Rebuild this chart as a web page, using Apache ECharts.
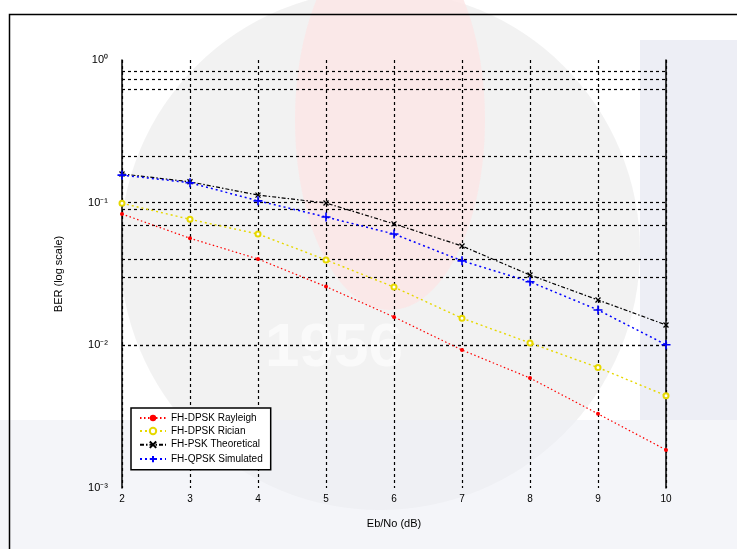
<!DOCTYPE html>
<html>
<head>
<meta charset="utf-8">
<script src="https://cdn.jsdelivr.net/npm/echarts@6/dist/echarts.min.js"></script>
<style>
  html, body { margin: 0; padding: 0; background: #fff; }
  #myChart { width: 737px; height: 549px; }
</style>
</head>
<body>
<div id="myChart"></div>
<script>
// Eb/No (dB)
var snr = [2, 3, 4, 5, 6, 7, 8, 9, 10];
// BER tiap kurva
var berRed    = [0.0833, 0.0563, 0.0403, 0.0258, 0.0158, 0.00927, 0.0059, 0.00331, 0.00185];
var berYellow = [0.099, 0.0764, 0.0603, 0.0397, 0.0256, 0.0155, 0.0104, 0.00699, 0.00444];
var berBlack  = [0.159, 0.140, 0.113, 0.0995, 0.071, 0.0497, 0.0311, 0.0208, 0.0139];
var berBlue   = [0.156, 0.138, 0.103, 0.0794, 0.0603, 0.0391, 0.0279, 0.0177, 0.0101];
// garis grid horizontal yang terlihat
var gridY = [0.827, 0.727, 0.623, 0.207, 0.101, 0.093, 0.072, 0.0416, 0.0308, 0.0091, 0.0051, 0.0040, 0.00305];
var legendNames = ['FH-DPSK Rayleigh', 'FH-DPSK Rician', 'FH-PSK Theoretical', 'FH-QPSK Simulated'];
var yTickLabels = {'1': '10\u2070', '0.1': '10\u207B\u00B9', '0.01': '10\u207B\u00B2', '0.001': '10\u207B\u00B3'};

var myChart = echarts.init(document.getElementById('myChart'));

function pair(ys) {
  var out = [];
  for (var i = 0; i < snr.length; i++) out.push([snr[i], ys[i]]);
  return out;
}

var font = 'Liberation Sans, Arial, sans-serif';

var option = {
  backgroundColor: '#ffffff',
  animation: false,
  graphic: [
    // watermark latar (logo samar)
    { type: 'circle', z: -10, shape: { cx: 380, cy: 250, r: 260 }, style: { fill: '#eeeeee', opacity: 0.75 } },
    { type: 'ellipse', z: -9, shape: { cx: 390, cy: 120, rx: 95, ry: 190 }, style: { fill: '#fbe6e6', opacity: 0.85 } },
    { type: 'text', z: -8, left: 265, top: 318, style: { text: '1956', fill: '#fafafa', font: 'bold 62px Liberation Sans, Arial' } },
    { type: 'rect', z: -9, shape: { x: 0, y: 420, width: 737, height: 129 }, style: { fill: '#eceef5', opacity: 0.6 } },
    { type: 'rect', z: -9, shape: { x: 640, y: 40, width: 97, height: 380 }, style: { fill: '#e8eaf3', opacity: 0.8 } },
    // bingkai gambar
    { type: 'rect', z: 100, shape: { x: 9.5, y: 14.5, width: 760, height: 560 }, style: { fill: 'none', stroke: '#000', lineWidth: 1.5 } }
  ],
  grid: { left: 122, right: 71, top: 60, bottom: 61 },
  legend: {
    orient: 'vertical',
    left: 131,
    top: 408,
    width: 155,
    padding: [5, 8, 5, 8],
    itemGap: 3,
    itemWidth: 26,
    itemHeight: 8,
    backgroundColor: '#ffffff',
    borderColor: '#000',
    borderWidth: 1.5,
    textStyle: { fontSize: 10, color: '#000', fontFamily: font },
    data: legendNames
  },
  xAxis: {
    type: 'value',
    min: 2,
    max: 10,
    interval: 1,
    name: 'Eb/No (dB)',
    nameLocation: 'middle',
    nameGap: 30,
    nameTextStyle: { fontSize: 11, color: '#000', fontFamily: font },
    axisLine: { show: false },
    axisTick: { show: false },
    axisLabel: { fontSize: 10, color: '#000', margin: 6, fontFamily: font },
    splitLine: { show: true, lineStyle: { color: '#000', type: [3, 3], width: 1.2 } }
  },
  yAxis: [{
    type: 'log',
    logBase: 10,
    min: 0.001,
    max: 1,
    name: 'BER (log scale)',
    nameLocation: 'middle',
    nameGap: 58,
    nameTextStyle: { fontSize: 11, color: '#000', fontFamily: font },
    axisLine: { show: true, lineStyle: { color: '#000', width: 1.5 } },
    axisTick: { show: false },
    axisLabel: {
      fontSize: 11, color: '#000', margin: 14, fontFamily: font,
      formatter: function (v) {
        var k = String(Number(v.toPrecision(3)));
        return yTickLabels[k] || '';
      }
    },
    splitLine: { show: false }
  }, {
    type: 'log',
    logBase: 10,
    min: 0.001,
    max: 1,
    position: 'right',
    axisLine: { show: true, lineStyle: { color: '#000', width: 1.5 } },
    axisTick: { show: false },
    axisLabel: { show: false },
    splitLine: { show: false }
  }],
  series: [
    {
      name: legendNames[0],
      type: 'line',
      data: pair(berRed),
      symbol: 'circle',
      symbolSize: 4,
      color: '#ff0000',
      lineStyle: { color: '#ff0000', width: 1.2, type: [1.5, 2.5] },
      z: 5,
      markLine: {
        silent: true,
        symbol: 'none',
        label: { show: false },
        lineStyle: { color: '#000', type: [3, 3], width: 1.2 },
        data: gridY.map(function (v) { return { yAxis: v }; })
      }
    },
    {
      name: legendNames[1],
      type: 'line',
      data: pair(berYellow),
      symbol: 'emptyCircle',
      symbolSize: 5,
      color: '#e6d800',
      itemStyle: { color: '#e6d800', borderWidth: 1 },
      lineStyle: { color: '#e6d800', width: 1.4, type: [2, 3] },
      z: 5
    },
    {
      name: legendNames[2],
      type: 'line',
      data: pair(berBlack),
      symbol: 'path://M0,0L10,10M10,0L0,10',
      symbolSize: 5,
      color: '#000',
      itemStyle: { color: 'none', borderColor: '#000', borderWidth: 1.3 },
      lineStyle: { color: '#000', width: 1.2, type: [4, 2, 1.5, 2] },
      z: 5
    },
    {
      name: legendNames[3],
      type: 'line',
      data: pair(berBlue),
      symbol: 'path://M5,0L5,10M0,5L10,5',
      symbolSize: 9,
      color: '#0000ff',
      itemStyle: { color: 'none', borderColor: '#0000ff', borderWidth: 1.6 },
      lineStyle: { color: '#0000ff', width: 1.5, type: [2, 3] },
      z: 6
    }
  ]
};
myChart.setOption(option);
</script>
</body>
</html>
